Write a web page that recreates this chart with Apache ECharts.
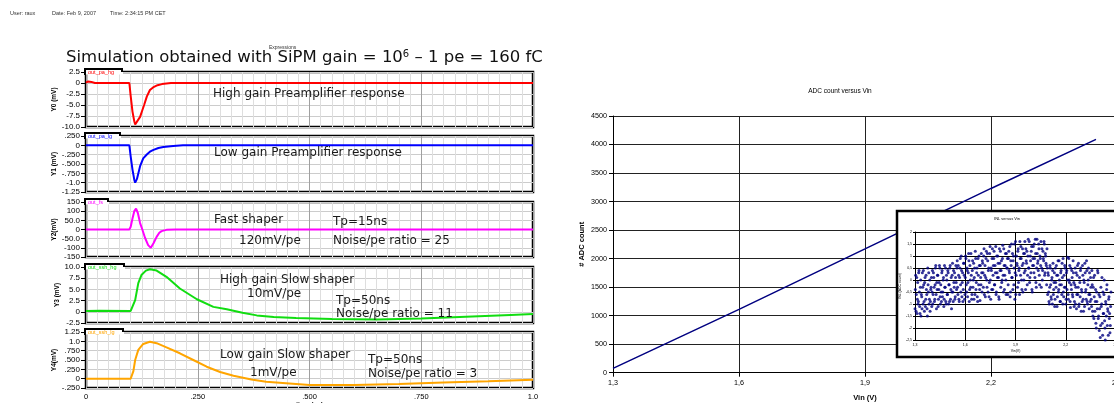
<!DOCTYPE html>
<html><head><meta charset="utf-8">
<script src="https://cdn.jsdelivr.net/npm/echarts@6/dist/echarts.min.js"></script>
<style>html,body{margin:0;padding:0;background:#fff}#c{width:1114px;height:403px}</style>
</head><body><div id="c"></div>
<script>
// ---------- DATA ----------
const headerTexts = ['User: raux', 'Date: Feb 9, 2007', 'Time: 2:34:15 PM CET'];
const mainTitle = 'Simulation obtained with SiPM gain = 10{sup|6} \u2013 1 pe = 160 fC';
const panelNames = ['out_pa_hg', 'out_pa_lg', 'out_fs', 'out_ssh_hg', 'out_ssh_lg'];
const yAxisNames = ['Y0 (mV)', 'Y1 (mV)', 'Y2(mV)', 'Y3 (mV)', 'Y4(mV)'];
const yMin = [-10, -1.25, -150, -2.5, -0.25];
const yMax = [2.5, 0.25, 150, 10, 1.25];
const yStep = [2.5, 0.25, 50, 2.5, 0.25];
const yTickLabels = [
  ['-10.0', '-7.5', '-5.0', '-2.5', '0', '2.5'],
  ['-1.25', '-1.0', '-.750', '-.500', '-.250', '0', '.250'],
  ['-150', '-100', '-50.0', '0', '50.0', '100', '150'],
  ['-2.5', '0', '2.5', '5.0', '7.5', '10.0'],
  ['-.250', '0', '.250', '.500', '.750', '1.0', '1.25']
];
const timeTickLabels = ['0', '.250', '.500', '.750', '1.0'];
const timeAxisName = 'time (us)';

// time (us), mV
const y0Curve = [[0,0.1],[0.005,0.35],[0.012,0.25],[0.02,0],[0.097,0],[0.1,-3],[0.104,-6.5],[0.108,-8.7],[0.11,-9.4],[0.114,-9.0],[0.121,-7.7],[0.126,-6.2],[0.13,-5.0],[0.136,-3.1],[0.143,-1.6],[0.15,-1.0],[0.16,-0.5],[0.17,-0.25],[0.18,-0.1],[0.19,0],[1.0,0]];
const y1Curve = [[0,0],[0.097,0],[0.1,-0.3],[0.104,-0.65],[0.108,-0.92],[0.11,-1.0],[0.114,-0.9],[0.121,-0.56],[0.128,-0.35],[0.136,-0.245],[0.143,-0.17],[0.151,-0.12],[0.162,-0.07],[0.173,-0.045],[0.195,-0.02],[0.217,0],[1.0,0]];
const y2Curve = [[0,0],[0.097,0],[0.1,15],[0.104,60],[0.108,100],[0.112,114],[0.116,90],[0.121,35],[0.126,0],[0.132,-45],[0.139,-85],[0.145,-100],[0.151,-75],[0.158,-40],[0.164,-18],[0.169,-9],[0.18,-2],[0.2,0],[1.0,0]];
const y3Curve = [[0,0.2],[0.03,0.25],[0.1,0.2],[0.104,0.6],[0.11,2.6],[0.117,6.4],[0.124,8.2],[0.134,9.2],[0.143,9.5],[0.158,9.2],[0.18,7.8],[0.21,5.2],[0.248,2.8],[0.285,1.1],[0.315,0.55],[0.35,-0.2],[0.382,-0.8],[0.42,-1.15],[0.47,-1.4],[0.55,-1.6],[0.65,-1.7],[0.75,-1.5],[0.85,-1.1],[0.95,-0.7],[1.0,-0.5]];
const y4Curve = [[0,0],[0.1,0],[0.103,-0.03],[0.106,0.2],[0.11,0.5],[0.117,0.77],[0.128,0.93],[0.143,0.99],[0.158,0.95],[0.18,0.84],[0.21,0.68],[0.24,0.5],[0.27,0.32],[0.3,0.18],[0.33,0.08],[0.37,-0.02],[0.403,-0.08],[0.47,-0.14],[0.5,-0.17],[0.6,-0.17],[0.7,-0.14],[0.8,-0.1],[0.9,-0.07],[0.95,-0.05],[1.0,-0.03]];
const curves = [y0Curve, y1Curve, y2Curve, y3Curve, y4Curve];

const annotations = ['High gain Preamplifier response', 'Low gain Preamplifier response', 'Fast shaper', 'Tp=15ns', '120mV/pe', 'Noise/pe ratio = 25',
  'High gain Slow shaper', '10mV/pe', 'Tp=50ns', 'Noise/pe ratio = 11', 'Low gain Slow shaper', '1mV/pe', 'Tp=50ns', 'Noise/pe ratio = 3'];

// ADC count versus Vin
const adcTitle = 'ADC count versus Vin';
const adcVin = [1.3, 1.6, 1.9, 2.2, 2.45];
const adcCount = [77, 1111, 2170, 3230, 4090];

// INL versus Vin (inset)
const inlTitle = 'INL versus Vin';
const inlPoints = [
[1.300,-1.2],[1.304,0.2],[1.308,-0.6],[1.312,-1.4],[1.316,-0.1],[1.320,-0.9],[1.324,0.4],[1.328,-1.1],[1.332,-0.3],[1.336,-1.5],
[1.340,-0.7],[1.344,0.3],[1.348,-1.0],[1.352,-0.2],[1.356,-1.3],[1.360,0.1],[1.364,-0.8],[1.368,-0.4],[1.372,-1.2],[1.376,0.5],
[1.380,-0.5],[1.384,-1.0],[1.388,0.0],[1.392,-0.9],[1.396,-0.3],
[1.400,-1.1],[1.404,0.4],[1.408,-0.6],[1.412,0.1],[1.416,-0.9],[1.420,-0.2],[1.424,0.6],[1.428,-1.2],[1.432,-0.4],[1.436,0.2],
[1.440,-0.8],[1.444,-0.1],[1.448,0.5],[1.452,-1.0],[1.456,-0.5],[1.460,0.3],[1.464,-0.7],[1.468,0.0],[1.472,-1.1],[1.476,0.6],
[1.480,-0.3],[1.484,-0.9],[1.488,0.2],[1.492,-0.6],[1.496,0.4],[1.500,-1.0],[1.504,-0.2],[1.508,0.5],[1.512,-0.8],[1.516,0.1],
[1.520,-0.5],[1.524,0.7],[1.528,-0.9],[1.532,-0.1],[1.536,0.3],[1.540,-0.7],[1.544,0.6],[1.548,-0.4],
[1.552,0.8],[1.556,-0.6],[1.560,0.2],[1.564,-0.9],[1.568,0.5],[1.572,-0.2],[1.576,1.0],[1.580,-0.7],[1.584,0.3],[1.588,-0.4],
[1.592,0.7],[1.596,-0.8],[1.600,0.1],[1.604,0.9],[1.608,-0.5],[1.612,0.4],[1.616,-0.1],[1.620,1.1],[1.624,-0.9],[1.628,0.6],
[1.632,-0.3],[1.636,0.2],[1.640,-0.6],[1.644,0.8],[1.648,0.0],[1.652,-0.8],[1.656,0.5],[1.660,1.2],[1.664,-0.4],[1.668,0.3],
[1.672,-0.7],[1.676,0.9],[1.680,-0.2],[1.684,0.6],[1.688,-0.85],[1.692,0.1],[1.696,1.1],[1.700,-0.5],
[1.704,0.7],[1.708,-0.3],[1.712,1.3],[1.716,0.2],[1.720,-0.7],[1.724,0.9],[1.728,0.0],[1.732,1.1],[1.736,-0.5],[1.740,0.5],
[1.744,-0.1],[1.748,1.4],[1.752,-0.8],[1.756,0.4],[1.760,0.9],[1.764,-0.4],[1.768,0.6],[1.772,1.2],[1.776,-0.2],[1.780,0.3],
[1.784,-0.6],[1.788,1.0],[1.792,0.1],[1.796,0.7],[1.800,-0.7],[1.804,1.3],[1.808,0.4],[1.812,-0.3],[1.816,0.8],[1.820,0.0],
[1.824,1.45],[1.828,-0.5],[1.832,0.6],[1.836,0.2],[1.840,1.1],[1.844,-0.6],[1.848,0.5],[1.852,0.9],
[1.856,-0.2],[1.860,1.2],[1.864,0.3],[1.868,-0.7],[1.872,0.8],[1.876,1.5],[1.880,0.1],[1.884,-0.4],[1.888,1.0],[1.892,0.5],
[1.896,-0.8],[1.900,1.6],[1.904,0.2],[1.908,0.7],[1.912,-0.3],[1.916,1.3],[1.920,0.4],[1.924,-0.6],[1.928,0.9],[1.932,1.4],
[1.936,0.0],[1.940,0.6],[1.944,-0.5],[1.948,1.1],[1.952,0.3],
[1.956,1.6],[1.960,-0.4],[1.964,0.8],[1.968,1.2],[1.972,0.2],[1.976,1.7],[1.980,0.5],[1.984,-0.1],[1.988,1.0],[1.992,0.3],
[1.996,1.4],[2.000,-0.5],[2.004,0.9],[2.008,0.6],[2.012,1.5],[2.016,0.1],[2.020,1.1],[2.024,-0.3],[2.028,1.7],[2.032,0.7],
[2.036,0.4],[2.040,1.3],[2.044,-0.2],[2.048,0.9],[2.052,1.6],[2.056,0.5],[2.060,0.0],[2.064,1.2],[2.068,0.8],[2.072,1.5],
[2.076,0.3],[2.080,1.0],[2.084,0.6],[2.088,1.3],
[2.092,-0.6],[2.096,0.2],[2.100,-0.9],[2.104,-0.3],[2.108,0.5],[2.112,-0.7],[2.116,0.0],[2.120,-1.0],[2.124,0.7],[2.128,-0.4],
[2.132,0.3],[2.136,-0.8],[2.140,-0.1],[2.144,0.6],[2.148,-1.1],[2.152,0.2],[2.156,-0.5],[2.160,0.8],[2.164,-0.2],[2.168,-0.9],
[2.172,0.4],[2.176,-0.6],[2.180,0.1],[2.184,0.9],[2.188,-0.7],[2.192,-0.3],[2.196,0.5],[2.200,-1.0],[2.204,0.3],[2.208,-0.4],
[2.212,0.95],[2.216,-0.8],[2.220,0.0],[2.224,0.6],[2.228,-1.15],[2.232,-0.2],[2.236,0.4],[2.240,-0.6],[2.244,0.8],[2.248,-0.1],
[2.252,-0.9],[2.256,0.5],[2.260,-0.3],[2.264,-1.2],[2.268,0.2],[2.272,-0.6],[2.276,0.7],[2.280,-1.0],[2.284,-0.1],[2.288,0.4],
[2.292,-1.3],[2.296,-0.5],[2.300,0.6],[2.304,-0.8],[2.308,0.0],[2.312,-1.1],[2.316,0.3],[2.320,-0.4],[2.324,0.8],[2.328,-0.9],
[2.332,-0.2],[2.336,0.5],[2.340,-1.2],[2.344,-0.6],[2.348,0.1],
[2.352,-0.8],[2.356,0.4],[2.360,-1.3],[2.364,-0.3],[2.368,-1.6],[2.372,0.2],[2.376,-0.9],[2.380,-1.8],[2.384,-0.5],[2.388,-1.2],
[2.392,0.3],[2.396,-1.5],[2.400,-2.1],[2.404,-0.7],[2.408,-1.9],[2.412,-1.1],[2.416,0.1],[2.420,-2.3],[2.424,-1.4],[2.428,-0.6],
[2.432,-1.7],[2.436,-2.5],[2.440,-1.0],[2.444,-0.4],[2.448,-1.9],[2.452,-1.3],[2.456,-0.8],[2.460,-1.6],[2.464,-2.2],[2.468,-1.1]
];
const inlPoints2 = [
[1.302,-0.4],[1.306,-1.3],[1.310,0.1],[1.314,-0.8],[1.318,-1.0],[1.322,0.3],[1.326,-0.5],[1.330,-1.4],[1.334,0.0],[1.338,-0.6],
[1.342,-1.2],[1.346,-0.3],[1.350,0.4],[1.354,-0.9],[1.358,-0.1],[1.362,-1.1],[1.366,0.2],[1.370,-0.6],[1.374,-1.5],[1.378,-0.2],
[1.382,0.3],[1.386,-0.8],[1.390,-1.3],[1.394,-0.4],[1.398,0.1],
[1.402,-0.5],[1.406,-1.0],[1.410,0.3],[1.414,-0.3],[1.418,-0.8],[1.422,0.5],[1.426,-0.6],[1.430,-0.1],[1.434,0.2],[1.438,-1.1],
[1.442,-0.4],[1.446,0.6],[1.450,-0.7],[1.454,-0.2],[1.458,-0.9],[1.462,0.4],[1.466,-0.5],[1.470,0.1],[1.474,-0.8],[1.478,-0.3],
[1.482,0.5],[1.486,-1.0],[1.490,0.0],[1.494,-0.6],[1.498,0.3],[1.502,-0.2],[1.506,-0.9],[1.510,0.6],[1.514,-0.4],[1.518,-1.2],
[1.522,0.2],[1.526,-0.5],[1.530,0.4],[1.534,-0.3],[1.538,-0.8],[1.542,0.1],[1.546,-0.1],[1.550,0.5],
[1.554,-0.3],[1.558,0.6],[1.562,-0.8],[1.566,0.1],[1.570,0.9],[1.574,-0.5],[1.578,0.4],[1.582,-0.1],[1.586,-0.9],[1.590,0.7],
[1.594,0.2],[1.598,-0.6],[1.602,1.0],[1.606,-0.2],[1.610,0.5],[1.614,-0.7],[1.618,0.3],[1.622,0.8],[1.626,-0.4],[1.630,0.0],
[1.634,1.1],[1.638,-0.8],[1.642,0.4],[1.646,-0.3],[1.650,0.7],[1.654,0.1],[1.658,-0.6],[1.662,0.9],[1.666,-0.1],[1.670,0.5],
[1.674,-0.9],[1.678,0.2],[1.682,1.0],[1.686,-0.4],[1.690,0.6],[1.694,-0.2],[1.698,0.3],[1.702,0.8],
[1.706,0.3],[1.710,1.0],[1.714,-0.6],[1.718,0.6],[1.722,0.1],[1.726,1.2],[1.730,-0.3],[1.734,0.8],[1.738,0.4],[1.742,-0.7],
[1.746,1.1],[1.750,0.0],[1.754,0.5],[1.758,-0.4],[1.762,1.3],[1.766,0.2],[1.770,0.9],[1.774,-0.2],[1.778,0.6],[1.782,1.4],
[1.786,-0.5],[1.790,0.3],[1.794,1.0],[1.798,0.1],[1.802,-0.8],[1.806,0.7],[1.810,1.2],[1.814,0.4],[1.818,-0.1],[1.822,0.9],
[1.826,0.2],[1.830,1.3],[1.834,-0.4],[1.838,0.6],[1.842,0.0],[1.846,1.1],[1.850,0.5],[1.854,-0.6],
[1.858,0.9],[1.862,0.4],[1.866,1.4],[1.870,-0.5],[1.874,0.6],[1.878,0.1],[1.882,1.1],[1.886,0.8],[1.890,-0.2],[1.894,1.5],
[1.898,0.3],[1.902,-0.6],[1.906,1.0],[1.910,0.6],[1.914,1.2],[1.918,-0.1],[1.922,0.5],[1.926,1.6],[1.930,0.2],[1.934,0.9],
[1.938,-0.4],[1.942,1.3],[1.946,0.7],[1.950,0.0],[1.954,1.1],
[1.958,0.4],[1.962,1.3],[1.966,0.7],[1.970,-0.2],[1.974,1.0],[1.978,0.5],[1.982,1.6],[1.986,0.1],[1.990,0.8],[1.994,1.2],
[1.998,-0.4],[2.002,0.6],[2.006,1.4],[2.010,0.3],[2.014,0.9],[2.018,1.7],[2.022,-0.1],[2.026,0.5],[2.030,1.1],[2.034,0.8],
[2.038,1.5],[2.042,0.2],[2.046,1.0],[2.050,0.6],[2.054,-0.3],[2.058,1.3],[2.062,0.4],[2.066,0.9],[2.070,1.6],[2.074,0.2],
[2.078,1.1],[2.082,0.7],[2.086,-0.2],[2.090,0.5],
[2.094,0.3],[2.098,-0.5],[2.102,-1.0],[2.106,0.6],[2.110,-0.2],[2.114,-0.8],[2.118,0.1],[2.122,0.4],[2.126,-0.6],[2.130,-0.1],
[2.134,-1.1],[2.138,0.5],[2.142,-0.3],[2.146,0.2],[2.150,-0.7],[2.154,0.8],[2.158,-0.4],[2.162,0.0],[2.166,-0.9],[2.170,0.3],
[2.174,-0.2],[2.178,0.7],[2.182,-1.0],[2.186,-0.5],[2.190,0.2],[2.194,0.6],[2.198,-0.3],[2.202,-0.8],[2.206,0.4],[2.210,0.0],
[2.214,-0.6],[2.218,0.9],[2.222,-0.1],[2.226,-0.9],[2.230,0.5],[2.234,-0.4],[2.238,0.1],[2.242,-0.7],[2.246,0.3],[2.250,-1.1],
[2.254,-0.2],[2.258,-1.0],[2.262,0.3],[2.266,-0.6],[2.270,0.6],[2.274,-0.3],[2.278,-1.1],[2.282,0.1],[2.286,-0.7],[2.290,0.5],
[2.294,-0.4],[2.298,-0.9],[2.302,0.2],[2.306,-1.3],[2.310,-0.1],[2.314,0.7],[2.318,-0.5],[2.322,-0.8],[2.326,0.4],[2.330,-1.0],
[2.334,0.0],[2.338,-0.6],[2.342,0.3],[2.346,-0.9],[2.350,-0.3],
[2.354,-1.1],[2.358,-0.2],[2.362,-1.5],[2.366,0.1],[2.370,-0.7],[2.374,-1.3],[2.378,-0.4],[2.382,-2.0],[2.386,-0.9],[2.390,0.4],
[2.394,-1.6],[2.398,-0.6],[2.402,-1.2],[2.406,-2.4],[2.410,-0.3],[2.414,-1.0],[2.418,-1.8],[2.422,-0.5],[2.426,-1.4],[2.430,0.0],
[2.434,-2.0],[2.438,-0.9],[2.442,-1.5],[2.446,-0.2],[2.450,-1.2],[2.454,-2.3],[2.458,-0.7],[2.462,-1.4],[2.466,-1.9],[2.470,-0.5]
];

// ---------- LAYOUT / STYLE ----------
const SANS = '"Liberation Sans", Arial, sans-serif';
const DEJA = '"DejaVu Sans", sans-serif';
const colors = ['#ff0000', '#0000ff', '#ff00ff', '#11dd11', '#ffa500'];
const panelTop = [72, 136, 202, 267, 332];
const panelH = [55, 56, 55, 56, 56];
const tabW = [37, 35, 23, 39, 38];
const annPos = [[213,94],[214,153],[214,220],[333,222],[239,241],[333,241],[220,280],[247,294],[336,301],[336,314],[220,355],[250,373],[368,360],[368,374]];

const grids = [], xAxes = [], yAxes = [], series = [];
for (let i = 0; i < 5; i++) {
  grids.push({left: 86, width: 447, top: panelTop[i], height: panelH[i], show: true, borderColor: '#000', borderWidth: 2.5,
    containLabel: false, outerBoundsMode: 'none'});
  xAxes.push({gridIndex: i, type: 'value', min: 0, max: 1, interval: 0.25,
    axisLine: {show: false}, axisTick: {show: false},
    axisLabel: {show: i === 4, fontSize: 7.5, fontFamily: SANS, color: '#000', margin: 5,
      formatter: (v) => timeTickLabels[Math.round(v / 0.25)]},
    splitLine: {show: true, lineStyle: {color: '#a0a0a0', width: 1}},
    minorTick: {show: false, splitNumber: 10},
    minorSplitLine: {show: true, lineStyle: {color: '#dedede', width: 1}},
    name: i === 4 ? timeAxisName : '', nameLocation: 'middle', nameGap: 10,
    nameTextStyle: {fontSize: 6.5, fontWeight: 'bold', fontFamily: SANS, color: '#000'}});
  const lab = yTickLabels[i], mn = yMin[i], st = yStep[i];
  yAxes.push({gridIndex: i, type: 'value', min: mn, max: yMax[i], interval: st,
    axisLine: {show: false},
    axisTick: {show: true, length: 5, lineStyle: {color: '#000', width: 1}},
    axisLabel: {fontSize: 8, fontFamily: SANS, color: '#000', margin: 6,
      formatter: (v) => lab[Math.round((v - mn) / st)]},
    splitLine: {show: true, lineStyle: {color: '#cccccc', width: 1}},
    name: yAxisNames[i], nameLocation: 'middle', nameRotate: 90, nameGap: 22,
    nameTextStyle: {fontSize: 6.5, fontWeight: 'bold', fontFamily: SANS, color: '#000'}});
  series.push({type: 'line', xAxisIndex: i, yAxisIndex: i, data: curves[i], showSymbol: false,
    lineStyle: {color: colors[i], width: 2}, itemStyle: {color: colors[i]}, z: 3});
}
// main ADC chart
grids.push({left: 613, width: 504, top: 116, height: 256.7, show: false, containLabel: false, outerBoundsMode: 'none'});
xAxes.push({gridIndex: 5, type: 'value', min: 1.3, max: 2.5, interval: 0.3,
  axisLine: {show: true, lineStyle: {color: '#000', width: 1}},
  axisTick: {show: true, length: 4, lineStyle: {color: '#000'}},
  axisLabel: {fontSize: 7.2, fontFamily: SANS, color: '#000', margin: 7, formatter: (v) => v.toFixed(1).replace('.', ',')},
  splitLine: {show: true, lineStyle: {color: '#222', width: 1}},
  name: 'Vin (V)', nameLocation: 'middle', nameGap: 21,
  nameTextStyle: {fontSize: 7.5, fontWeight: 'bold', fontFamily: SANS, color: '#000'}});
yAxes.push({gridIndex: 5, type: 'value', min: 0, max: 4500, interval: 500,
  axisLine: {show: true, lineStyle: {color: '#000', width: 1}},
  axisTick: {show: true, length: 4, lineStyle: {color: '#000'}},
  axisLabel: {fontSize: 7.2, fontFamily: SANS, color: '#000', margin: 6, formatter: (v) => String(v)},
  splitLine: {show: true, lineStyle: {color: '#222', width: 1}},
  name: '# ADC count', nameLocation: 'middle', nameRotate: 90, nameGap: 27,
  nameTextStyle: {fontSize: 7.5, fontWeight: 'bold', fontFamily: SANS, color: '#000'}});
series.push({type: 'line', xAxisIndex: 5, yAxisIndex: 5, data: adcVin.map((v, k) => [v, adcCount[k]]),
  showSymbol: false, lineStyle: {color: '#000080', width: 1.5}, z: 2});
// inset
grids.push({left: 915, width: 201, top: 232, height: 108, show: false, containLabel: false, outerBoundsMode: 'none'});
xAxes.push({gridIndex: 6, type: 'value', min: 1.3, max: 2.5, interval: 0.3, z: 6,
  axisLine: {show: true, lineStyle: {color: '#000', width: 1}},
  axisTick: {show: true, length: 2, lineStyle: {color: '#000'}},
  axisLabel: {fontSize: 3.5, fontFamily: SANS, color: '#000', margin: 3, formatter: (v) => v.toFixed(1).replace('.', ',')},
  splitLine: {show: true, lineStyle: {color: '#000', width: 1}},
  name: 'Vin(V)', nameLocation: 'middle', nameGap: 9,
  nameTextStyle: {fontSize: 3.5, fontFamily: SANS, color: '#000'}});
yAxes.push({gridIndex: 6, type: 'value', min: -2.5, max: 2, interval: 0.5, z: 6,
  axisLine: {show: true, lineStyle: {color: '#000', width: 1}},
  axisTick: {show: true, length: 2, lineStyle: {color: '#000'}},
  axisLabel: {fontSize: 3.5, fontFamily: SANS, color: '#000', margin: 3, formatter: (v) => String(v).replace('.', ',')},
  splitLine: {show: true, lineStyle: {color: '#000', width: 1}},
  name: 'INL (ADC count)', nameLocation: 'middle', nameRotate: 90, nameGap: 10,
  nameTextStyle: {fontSize: 3.5, fontFamily: SANS, color: '#000'}});
series.push({type: 'scatter', xAxisIndex: 6, yAxisIndex: 6, data: inlPoints.concat(inlPoints2), symbol: 'circle', symbolSize: 3,
  itemStyle: {color: '#000080'}, z: 7});

// graphics
const graphics = [];
const hx = [10, 52, 110];
headerTexts.forEach((t, k) => graphics.push({type: 'text', x: hx[k], y: 13, z: 10,
  style: {text: t, fill: '#333', font: '5.5px ' + SANS, verticalAlign: 'middle'}}));
graphics.push({type: 'text', x: 269, y: 48, z: 10, style: {text: 'Expressions', fill: '#333', font: '5px ' + SANS, verticalAlign: 'middle'}});
annotations.forEach((t, k) => graphics.push({type: 'text', x: annPos[k][0], y: annPos[k][1], z: 10,
  style: {text: t, fill: '#1a1a1a', font: '12px ' + DEJA, verticalAlign: 'middle'}}));
for (let i = 0; i < 5; i++) {
  const t = panelTop[i];
  graphics.push({type: 'rect', z: 20, shape: {x: 86, y: t - 3, width: tabW[i], height: 5.5}, style: {fill: '#fff'}});
  graphics.push({type: 'polyline', z: 21, shape: {points: [[85, t + 3], [85, t - 3], [85 + tabW[i], t - 3], [85 + tabW[i], t]]},
    style: {stroke: '#000', lineWidth: 2, fill: null}});
  graphics.push({type: 'text', x: 88, y: t + 0.2, z: 22, style: {text: panelNames[i], fill: colors[i], font: '5.5px ' + SANS, verticalAlign: 'middle'}});
}
graphics.push({type: 'text', x: 840, y: 91, z: 10, style: {text: adcTitle, fill: '#000', font: '6.5px ' + SANS, align: 'center', verticalAlign: 'middle'}});
graphics.push({type: 'rect', z: 5, shape: {x: 897, y: 211, width: 240, height: 146}, style: {fill: '#fff', stroke: '#000', lineWidth: 2.5}});
graphics.push({type: 'text', x: 1007, y: 219, z: 8, style: {text: inlTitle, fill: '#000', font: '4px ' + SANS, align: 'center', verticalAlign: 'middle'}});

const chart = echarts.init(document.getElementById('c'), null, {renderer: 'canvas'});
chart.setOption({
  backgroundColor: '#fff',
  animation: false,
  title: [{text: mainTitle, left: 61, top: 44,
    textStyle: {fontSize: 16.5, fontFamily: DEJA, fontWeight: 'normal', color: '#111',
      rich: {sup: {fontSize: 10, fontFamily: DEJA, color: '#111', verticalAlign: 'top', padding: [0, 0, 6, 0]}}}}],
  grid: grids, xAxis: xAxes, yAxis: yAxes, series: series, graphic: graphics
});
</script></body></html>
